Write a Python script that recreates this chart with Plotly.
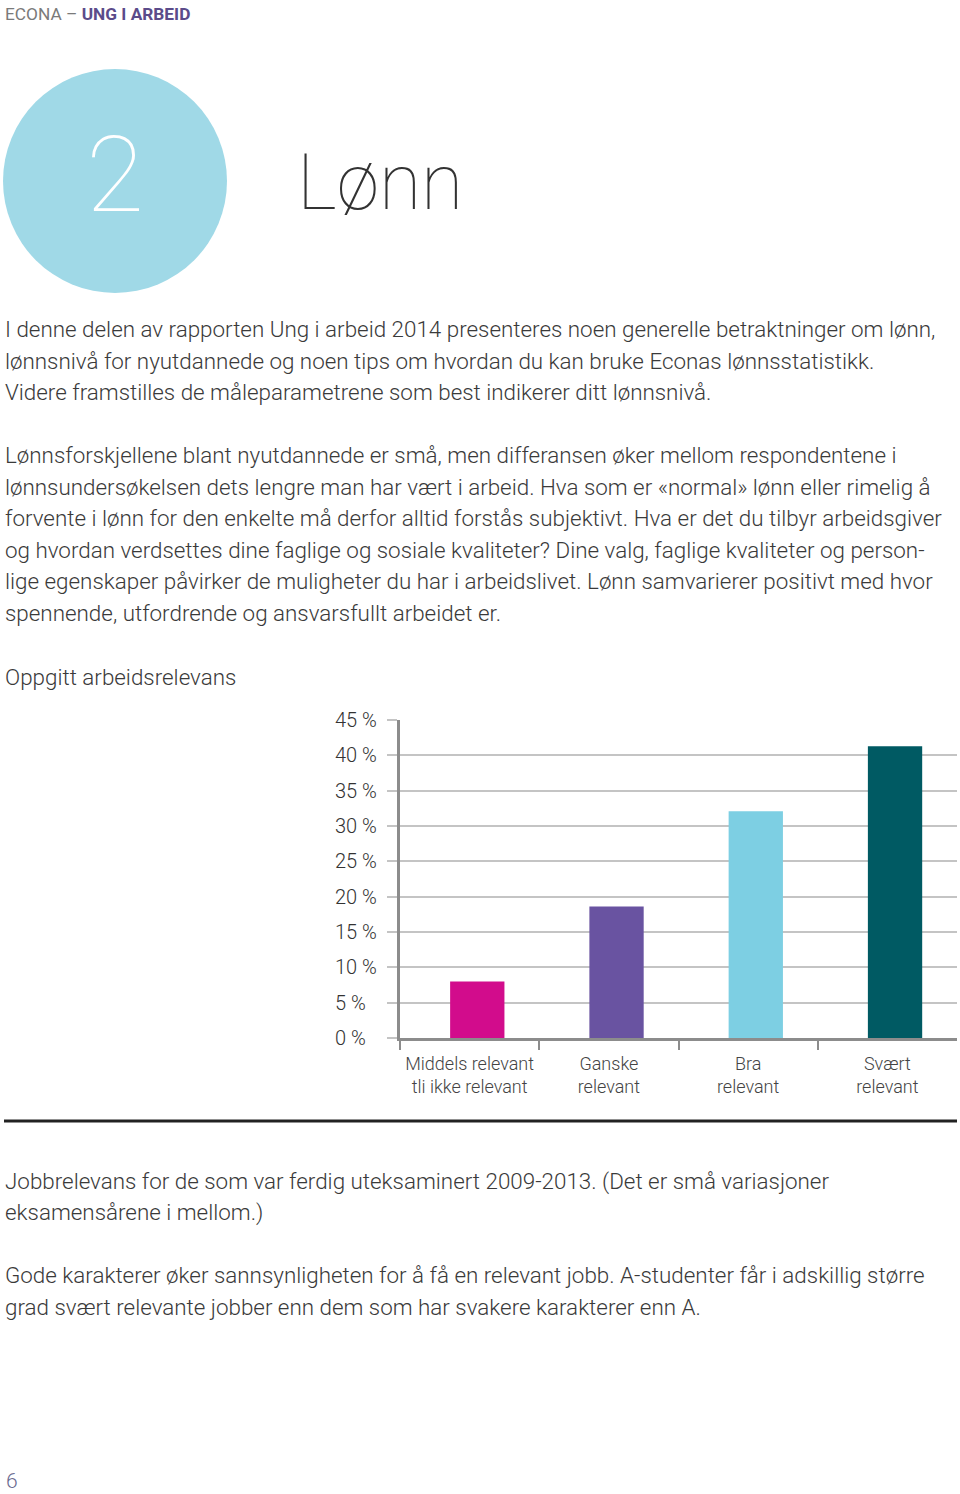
import plotly.graph_objects as go

W, H = 960, 1494

# ---- data ----
categories = ["Middels relevant<br>tli ikke relevant", "Ganske<br>relevant", "Bra<br>relevant", "Svært<br>relevant"]
values = [8.0, 18.6, 32.1, 41.3]
bar_colors = ["#D20C8C", "#6953A1", "#7DCFE3", "#005A63"]
y_ticks = [0, 5, 10, 15, 20, 25, 30, 35, 40, 45]
y_tick_labels = [f"{v} %" for v in y_ticks]

header_left = "ECONA – "
header_right = "UNG I ARBEID"
chapter_number = "2"
chapter_title = "Lønn"
chart_title = "Oppgitt arbeidsrelevans"
para1 = [
    "I denne delen av rapporten Ung i arbeid 2014 presenteres noen generelle betraktninger om lønn,",
    "lønnsnivå for nyutdannede og noen tips om hvordan du kan bruke Econas lønnsstatistikk.",
    "Videre framstilles de måleparametrene som best indikerer ditt lønnsnivå.",
]
para2 = [
    "Lønnsforskjellene blant nyutdannede er små, men differansen øker mellom respondentene i",
    "lønnsundersøkelsen dets lengre man har vært i arbeid. Hva som er «normal» lønn eller rimelig å",
    "forvente i lønn for den enkelte må derfor alltid forstås subjektivt. Hva er det du tilbyr arbeidsgiver",
    "og hvordan verdsettes dine faglige og sosiale kvaliteter? Dine valg, faglige kvaliteter og person-",
    "lige egenskaper påvirker de muligheter du har i arbeidslivet. Lønn samvarierer positivt med hvor",
    "spennende, utfordrende og ansvarsfullt arbeidet er.",
]
para3 = [
    "Jobbrelevans for de som var ferdig uteksaminert 2009-2013. (Det er små variasjoner",
    "eksamensårene i mellom.)",
]
para4 = [
    "Gode karakterer øker sannsynligheten for å få en relevant jobb. A-studenter får i adskillig større",
    "grad svært relevante jobber enn dem som har svakere karakterer enn A.",
]
page_number = "6"

FONT = "Roboto"
TEXT_COLOR = "#3a3a3a"


def px(x):
    return x / W


def py(y):
    return 1 - y / H


fig = go.Figure()
fig.add_trace(go.Bar(
    x=categories, y=values, marker=dict(color=bar_colors, line=dict(width=0)),
    width=0.39, offset=-0.14, hoverinfo="skip",
))

annotations = []


def text_line(s, x, y, size, color=TEXT_COLOR, weight=300, family=FONT, anchor="left"):
    annotations.append(dict(
        text=s, x=px(x), y=py(y), xref="paper", yref="paper",
        xanchor=anchor, yanchor="middle", showarrow=False,
        font=dict(family=family, size=size, color=color, weight=weight),
    ))


# header
annotations.append(dict(
    text=f"<span style='color:#7a7a7a'>{header_left}</span><b>{header_right}</b>",
    x=px(3), y=py(14), xref="paper", yref="paper", xanchor="left", yanchor="middle",
    showarrow=False, font=dict(family=FONT, size=17.3, color="#5B4B8A", weight=400),
))

# chapter
text_line(chapter_number, 115, 175, 106, color="white", weight=100, anchor="center")
text_line(chapter_title, 295, 183, 77, color="#333333", weight=100)

BODY = 22.4
for i, s in enumerate(para1):
    text_line(s, 3, 329 + i * 31.5, BODY)
for i, s in enumerate(para2):
    text_line(s, 3, 455 + i * 31.6, BODY)
text_line(chart_title, 3, 677, BODY)
for i, s in enumerate(para3):
    text_line(s, 3, 1181 + i * 31.5, BODY)
for i, s in enumerate(para4):
    text_line(s, 3, 1275 + i * 31.5, BODY)
text_line(page_number, 4, 1481, 21, color="#6a6a90")

# y tick labels (left aligned)
for v, lab in zip(y_ticks, y_tick_labels):
    annotations.append(dict(
        text=lab, x=px(333), y=v, xref="paper", yref="y", xanchor="left", yanchor="middle",
        showarrow=False, font=dict(family=FONT, size=20, color="#333333", weight=300),
    ))

shapes = [
    dict(type="circle", xref="paper", yref="paper",
         x0=px(3), x1=px(227), y0=py(293), y1=py(69),
         fillcolor="#A0D9E7", line=dict(width=0), layer="below"),
    dict(type="line", xref="paper", yref="paper",
         x0=px(4), x1=px(957), y0=py(1121), y1=py(1121),
         line=dict(color="#222222", width=3)),
]

fig.update_layout(
    width=W, height=H,
    margin=dict(l=0, r=0, t=0, b=0),
    paper_bgcolor="white", plot_bgcolor="white",
    showlegend=False,
    annotations=annotations,
    shapes=shapes,
    xaxis=dict(
        domain=[px(400), px(957)], type="category",
        showline=True, linecolor="#8c8c8c", linewidth=3,
        ticks="outside", tickson="boundaries", ticklen=9, tickwidth=2, tickcolor="#8c8c8c",
        tickfont=dict(family=FONT, size=18, color="#444444", weight=300),
        ticklabelstandoff=7,
        showgrid=False, zeroline=False, fixedrange=True,
    ),
    yaxis=dict(
        domain=[py(1038), py(720)], range=[0, 45],
        tickvals=y_ticks, showticklabels=False,
        ticks="outside", ticklen=10, tickwidth=1.5, tickcolor="#c4c4c4",
        showgrid=True, gridcolor="#c4c4c4", gridwidth=1.5,
        showline=True, linecolor="#8c8c8c", linewidth=3,
        zeroline=False, fixedrange=True,
    ),
)

fig.write_html(
    "out.html",
    config={"displayModeBar": False},
    post_script="document.body.style.margin='0';document.body.style.overflow='hidden';",
)
